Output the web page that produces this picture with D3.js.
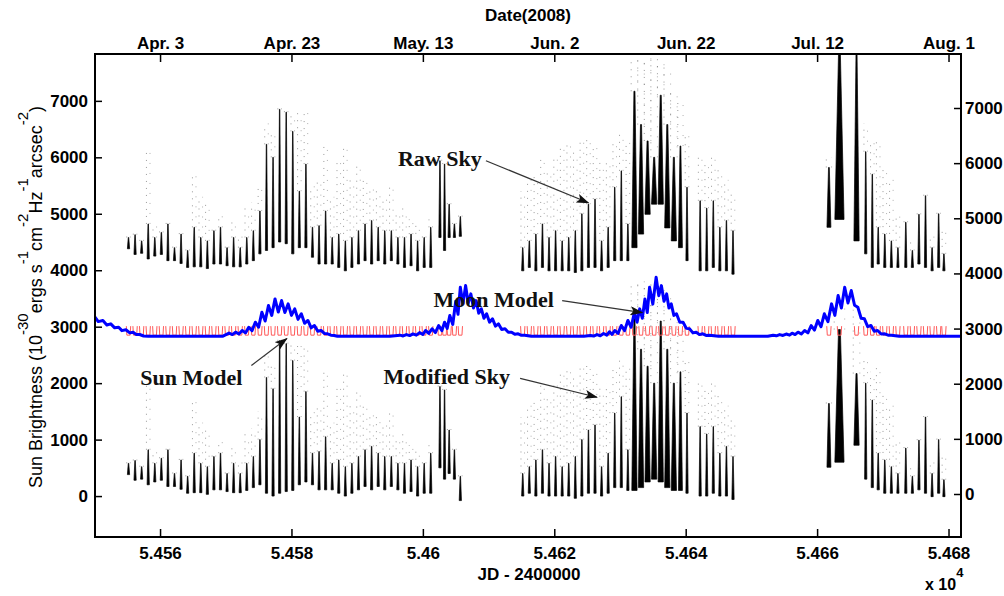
<!DOCTYPE html>
<html>
<head>
<meta charset="utf-8">
<script src="https://cdn.jsdelivr.net/npm/d3@7"></script>
<style>
  body { margin: 0; background: #fff; }
  svg text { font-family: "Liberation Sans", Arial, sans-serif; }
  .axis text { font-weight: bold; font-size: 17px; fill: #000; }
  .axis line { stroke: #000; stroke-width: 1.5; }
  .note { font-family: "Liberation Serif", serif; font-weight: bold; font-size: 22px; fill: #111; }
</style>
</head>
<body>
<svg width="1004" height="596"></svg>
<script>
// ---- data -------------------------------------------------------------
var jdTicks = [54560, 54580, 54600, 54620, 54640, 54660, 54680];
var jdTickLabels = ["5.456", "5.458", "5.46", "5.462", "5.464", "5.466", "5.468"];
var dateTickLabels = ["Apr. 3", "Apr. 23", "May. 13", "Jun. 2", "Jun. 22", "Jul. 12", "Aug. 1"];
var yTicks = [0, 1000, 2000, 3000, 4000, 5000, 6000, 7000];

// one entry per night: [jd, high value, low value, highest scattered point, half width (days)]
var rawSky = [
  [54555.2, 4580, 4380, 4700], [54556.2, 4630, 4280, 4750], [54557.2, 4520, 4300, 4600],
  [54558.2, 4820, 4200, 6100], [54559.2, 4580, 4250, 4800], [54560.2, 4670, 4280, 4750],
  [54561.2, 4820, 4170, 4900], [54562.2, 4400, 4170, 4500], [54563.2, 4640, 4120, 4700],
  [54564.2, 4350, 4050, 4400], [54565.2, 4760, 4060, 5700], [54566.2, 4580, 4060, 5300],
  [54567.2, 4520, 4030, 5200], [54568.2, 4700, 4110, 4800], [54569.2, 4760, 4110, 5000],
  [54570.2, 4400, 4080, 4500], [54571.2, 4580, 4060, 4900], [54572.2, 4400, 4060, 4600],
  [54573.2, 4580, 4110, 5100], [54574.2, 4700, 4170, 5200], [54575.2, 5050, 4290, 5500],
  [54576.2, 6230, 4350, 6600], [54577.2, 6000, 4400, 6400], [54578.2, 6850, 4500, 6900],
  [54579.2, 6800, 4470, 6850], [54580.2, 6460, 4290, 6800], [54581.2, 5400, 4400, 6800],
  [54582.2, 5880, 4400, 6800], [54583.2, 4760, 4230, 5500], [54584.2, 4790, 4110, 5600],
  [54585.2, 5050, 4110, 6200], [54586.2, 4580, 4110, 5300], [54587.2, 4640, 4050, 6000],
  [54588.2, 4520, 3990, 6200], [54589.2, 4580, 4050, 5600], [54590.2, 4700, 4110, 5900],
  [54591.2, 4820, 4170, 5600], [54592.2, 4880, 4110, 5500], [54593.2, 4760, 4170, 5400],
  [54594.2, 4700, 4110, 5300], [54595.2, 4700, 4170, 5500], [54596.2, 4580, 4110, 5000],
  [54597.2, 4580, 4050, 5100], [54598.2, 4640, 4080, 4900], [54599.2, 4520, 3990, 4800],
  [54600.2, 4580, 4050, 4700], [54601.2, 4760, 4050, 4900], [54602.6, 5940, 4580, 6000],
  [54603.3, 5880, 4350, 6000], [54604.0, 5170, 4580, 5200], [54604.8, 4820, 4580, 4900],
  [54605.7, 4950, 4600, 5000],
  [54615.2, 4400, 3990, 5400], [54616.2, 4520, 4050, 5600], [54617.2, 4640, 3990, 5700],
  [54618.2, 4820, 4050, 6000], [54619.2, 4580, 3990, 5800], [54620.2, 4700, 3990, 6000],
  [54621.2, 4520, 3990, 6200], [54622.2, 4580, 3990, 6300], [54623.2, 4700, 3960, 6100],
  [54624.2, 5000, 3990, 6300], [54625.2, 5170, 4050, 6400], [54626.2, 5260, 4050, 6200],
  [54627.2, 4520, 3990, 5900], [54628.2, 4760, 4050, 6000], [54629.2, 5470, 4170, 6300],
  [54630.2, 5760, 4170, 6400], [54631.2, 4820, 4170, 6300],
  [54632.2, 7170, 4400, 7750, 0.4], [54633.2, 6580, 4640, 7750, 0.4],
  [54634.2, 6290, 4990, 7750, 0.4], [54635.2, 6000, 5170, 7750, 0.4],
  [54636.2, 7100, 5170, 7750, 0.4], [54637.2, 6580, 4750, 7600, 0.4],
  [54638.2, 6000, 4520, 7200, 0.4], [54639.2, 6200, 4400, 7000, 0.3], [54640.2, 5470, 4170, 6400],
  [54642.2, 5230, 3990, 6000], [54643.2, 5100, 3990, 5900], [54644.2, 5230, 4050, 6000],
  [54645.2, 4760, 3990, 5800], [54646.2, 4880, 3990, 5600], [54647.2, 4700, 3930, 5400],
  [54661.8, 5820, 4760, 6000, 0.3], [54663.4, 7850, 4900, 7850, 0.7], [54666.0, 7850, 4520, 7850, 0.4],
  [54667.4, 6100, 4290, 6600], [54668.4, 5700, 4050, 6300], [54669.3, 4760, 4110, 6300],
  [54670.3, 4640, 4050, 5800], [54671.3, 4520, 4050, 5600], [54672.3, 4400, 4050, 5000],
  [54673.5, 4850, 4050, 4900], [54674.5, 4350, 4050, 4500], [54675.5, 4990, 4110, 5050],
  [54676.5, 5320, 4050, 5350], [54677.5, 4400, 3990, 4600], [54678.5, 5000, 4050, 5050],
  [54679.3, 4290, 3990, 4700]
];

var modifiedSky = [
  [54555.2, 580, 380, 700], [54556.2, 630, 280, 750], [54557.2, 520, 300, 600],
  [54558.2, 820, 200, 2100], [54559.2, 580, 250, 800], [54560.2, 670, 280, 750],
  [54561.2, 820, 170, 900], [54562.2, 400, 170, 500], [54563.2, 640, 120, 700],
  [54564.2, 350, 50, 400], [54565.2, 760, 60, 1700], [54566.2, 580, 60, 1300],
  [54567.2, 520, 30, 1200], [54568.2, 700, 110, 800], [54569.2, 760, 110, 1000],
  [54570.2, 400, 80, 500], [54571.2, 580, 60, 900], [54572.2, 400, 60, 600],
  [54573.2, 580, 100, 1100], [54574.2, 700, 150, 1200], [54575.2, 1000, 200, 1500],
  [54576.2, 2100, 50, 2500], [54577.2, 1900, 0, 2300], [54578.2, 2750, 50, 2850],
  [54579.2, 2700, 80, 2800], [54580.2, 2400, 100, 2750], [54581.2, 1400, 200, 2700],
  [54582.2, 1850, 250, 2700], [54583.2, 760, 200, 1500], [54584.2, 790, 110, 1600],
  [54585.2, 1050, 110, 2200], [54586.2, 580, 110, 1300], [54587.2, 640, 50, 2000],
  [54588.2, 520, 0, 2200], [54589.2, 580, 50, 1600], [54590.2, 700, 110, 1900],
  [54591.2, 820, 170, 1600], [54592.2, 880, 110, 1500], [54593.2, 760, 170, 1400],
  [54594.2, 700, 110, 1300], [54595.2, 700, 170, 1500], [54596.2, 580, 110, 1000],
  [54597.2, 580, 50, 1100], [54598.2, 640, 80, 900], [54599.2, 520, 0, 800],
  [54600.2, 580, 50, 700], [54601.2, 760, 50, 900], [54602.6, 1940, 500, 2000],
  [54603.3, 1880, 300, 2000], [54604.0, 1170, 400, 1200], [54604.8, 820, 300, 900],
  [54605.7, 350, -80, 400],
  [54615.2, 400, 0, 1400], [54616.2, 520, 50, 1600], [54617.2, 640, 0, 1700],
  [54618.2, 820, 50, 2000], [54619.2, 580, 0, 1800], [54620.2, 700, 0, 2000],
  [54621.2, 520, 0, 2200], [54622.2, 580, 0, 2300], [54623.2, 700, -40, 2100],
  [54624.2, 1000, 0, 2300], [54625.2, 1170, 50, 2400], [54626.2, 1260, 50, 2200],
  [54627.2, 520, 0, 1900], [54628.2, 760, 50, 2000], [54629.2, 1470, 150, 2300],
  [54630.2, 1760, 150, 2400], [54631.2, 820, 100, 2300],
  [54632.2, 3200, 100, 3750, 0.4], [54633.2, 2600, 150, 3750, 0.4],
  [54634.2, 2300, 250, 3800, 0.4], [54635.2, 2000, 300, 3750, 0.4],
  [54636.2, 3100, 250, 3800, 0.4], [54637.2, 2600, 150, 3600, 0.4],
  [54638.2, 2000, 100, 3200, 0.4], [54639.2, 2200, 100, 3000, 0.3], [54640.2, 1470, 50, 2400],
  [54642.2, 1230, 0, 2000], [54643.2, 1100, 0, 1900], [54644.2, 1230, 50, 2000],
  [54645.2, 760, 0, 1800], [54646.2, 880, 0, 1600], [54647.2, 700, -60, 1400],
  [54661.8, 1640, 510, 1700, 0.3], [54663.4, 2950, 600, 3400, 0.7], [54666.0, 2170, 900, 3300, 0.4],
  [54667.4, 2000, 300, 2400], [54668.4, 1700, 150, 2200], [54669.3, 760, 110, 2300],
  [54670.3, 640, 50, 1800], [54671.3, 520, 50, 1600], [54672.3, 400, 50, 1000],
  [54673.5, 850, 50, 900], [54674.5, 350, 50, 500], [54675.5, 990, 110, 1050],
  [54676.5, 1400, 50, 1450], [54677.5, 400, -10, 600], [54678.5, 1000, 50, 1050],
  [54679.3, 290, -10, 700]
];

// moon model curve vertices [jd, value]
var moonModel = [
  [54550.1, 3170], [54550.6, 3090], [54551.3, 3110], [54551.9, 3030], [54552.5, 3050],
  [54553.1, 2980], [54553.7, 2990], [54554.2, 2930], [54554.8, 2945], [54555.4, 2890],
  [54555.9, 2903], [54556.4, 2860], [54556.9, 2862], [54557.5, 2835], [54558.2, 2830],
  [54569.5, 2830],
  [54570.5, 2886], [54571.0, 2860], [54571.5, 2903], [54572.0, 2870], [54572.5, 2933],
  [54573.0, 2890], [54573.5, 2991], [54574.0, 2930], [54574.5, 3080], [54575.0, 2990],
  [54575.5, 3257], [54576.0, 3100], [54576.5, 3375], [54577.0, 3200], [54577.5, 3492],
  [54578.0, 3260], [54578.5, 3463], [54579.0, 3250], [54579.5, 3404], [54580.0, 3200],
  [54580.5, 3316], [54581.0, 3130], [54581.5, 3228], [54582.0, 3060], [54582.5, 3110],
  [54583.0, 2980], [54583.5, 3021], [54584.0, 2920], [54584.5, 2933], [54585.0, 2880],
  [54585.5, 2874], [54586.0, 2850], [54586.5, 2845], [54587.0, 2830],
  [54595.0, 2830],
  [54596.5, 2850], [54597.0, 2836], [54597.5, 2860], [54598.0, 2842], [54598.5, 2872],
  [54599.0, 2850], [54599.5, 2895], [54600.0, 2862], [54600.4, 2933], [54600.9, 2880],
  [54601.4, 2962], [54601.9, 2895], [54602.4, 3021], [54602.9, 2930], [54603.3, 3080],
  [54603.7, 2970], [54604.1, 3198], [54604.55, 3040], [54605.0, 3450], [54605.35, 3220],
  [54605.7, 3698], [54606.1, 3400], [54606.5, 3728], [54606.9, 3420], [54607.3, 3581],
  [54607.7, 3330], [54608.1, 3463], [54608.5, 3240], [54608.9, 3316], [54609.3, 3150],
  [54609.7, 3228], [54610.15, 3080], [54610.6, 3139], [54611.05, 3010], [54611.5, 3051],
  [54612.0, 2950], [54612.5, 2962], [54613.0, 2900], [54613.5, 2903], [54614.0, 2865],
  [54614.5, 2874], [54615.0, 2848], [54615.5, 2850], [54616.5, 2830],
  [54624.5, 2830],
  [54625.5, 2845], [54626.0, 2834], [54626.5, 2860], [54627.0, 2840], [54627.5, 2880],
  [54628.0, 2850], [54628.4, 2910], [54628.8, 2865], [54629.2, 2933], [54629.7, 2880],
  [54630.2, 3021], [54630.7, 2930], [54631.2, 3110], [54631.7, 2990], [54632.2, 3257],
  [54632.6, 3080], [54633.0, 3316], [54633.4, 3150], [54633.8, 3492], [54634.15, 3250],
  [54634.5, 3698], [54635.0, 3400], [54635.5, 3875], [54635.9, 3550], [54636.3, 3728],
  [54636.7, 3450], [54637.1, 3581], [54637.45, 3330], [54637.8, 3404], [54638.2, 3200],
  [54638.6, 3228], [54639.1, 3080], [54639.6, 3080], [54640.1, 2970], [54640.6, 2962],
  [54641.1, 2890], [54641.6, 2903], [54642.1, 2860], [54642.6, 2874], [54643.1, 2845],
  [54643.6, 2850], [54645.0, 2830],
  [54652.5, 2830],
  [54653.3, 2850], [54653.8, 2838], [54654.3, 2860], [54654.8, 2845], [54655.3, 2870],
  [54655.8, 2850], [54656.2, 2885], [54656.65, 2860], [54657.1, 2903], [54657.6, 2870],
  [54658.1, 2933], [54658.6, 2890], [54659.1, 3021], [54659.6, 2940], [54660.1, 3110],
  [54660.6, 3000], [54661.1, 3228], [54661.65, 3090], [54662.2, 3404], [54662.7, 3200],
  [54663.2, 3551], [54663.7, 3330], [54664.2, 3698], [54664.7, 3420], [54665.2, 3640],
  [54665.7, 3380], [54666.2, 3345], [54666.7, 3150], [54667.2, 3139], [54667.7, 3000],
  [54668.2, 3021], [54668.7, 2920], [54669.2, 2933], [54669.75, 2870], [54670.3, 2874],
  [54670.8, 2850], [54671.3, 2850], [54672.5, 2830], [54681.9, 2830]
];

// sun model: night minimum and twilight maximum, drawn at every observed night
var sunModelLevels = [2850, 3010];

// annotations: label position and arrow [from, to] in data units
var notes = [
  { text: "Raw Sky",      at: [54596.2, 5850], from: [54609.6, 5940], to: [54625.2, 5195] },
  { text: "Moon Model",   at: [54601.6, 3340], from: [54621.2, 3463], to: [54633.4, 3250] },
  { text: "Sun Model",    at: [54557.0, 1960], from: [54573.9, 2314], to: [54579.3, 2790] },
  { text: "Modified Sky", at: [54594.0, 1980], from: [54614.8, 2085], to: [54626.5, 1750] }
];

// ---- layout -----------------------------------------------------------
var svg = d3.select("svg"),
    box = {left: 95, right: 961, top: 54, bottom: 537};

var x = d3.scaleLinear()
    .domain([54550.1, 54681.9])
    .range([box.left, box.right]);

var y = d3.scaleLinear()
    .domain([-725, 7830])
    .range([box.bottom, box.top]);

// the right hand axis of the original is printed slightly off the left one
var yRight = d3.scaleLinear()
    .domain([0, 7000])
    .range([494, 108]);

svg.append("defs").append("clipPath")
    .attr("id", "clip")
  .append("rect")
    .attr("x", box.left).attr("y", box.top)
    .attr("width", box.right - box.left).attr("height", box.bottom - box.top);

svg.select("defs").append("marker")
    .attr("id", "head")
    .attr("markerUnits", "userSpaceOnUse")
    .attr("markerWidth", 13).attr("markerHeight", 9)
    .attr("refX", 12).attr("refY", 4.5)
    .attr("orient", "auto")
  .append("path")
    .attr("d", "M0,0L13,4.5L0,9L3,4.5Z")
    .attr("fill", "#111");

var plot = svg.append("g").attr("clip-path", "url(#clip)");

var line = d3.line()
    .x(function(p) { return x(p[0]); })
    .y(function(p) { return y(p[1]); });

function halfWidth(d) { return d[4] || 0.17; }

function drawSky(data, cls) {
  var g = plot.append("g").attr("class", cls);

  // scattered points above each night
  [[-1, "1 6", 0.45], [1, "1 9", 0.35]].forEach(function(s) {
    g.selectAll(".scatter" + s[0])
      .data(data)
      .enter().append("line")
        .attr("x1", function(d) { return x(d[0] + s[0] * (halfWidth(d) + 0.1)); })
        .attr("x2", function(d) { return x(d[0] + s[0] * (halfWidth(d) + 0.1)); })
        .attr("y1", function(d) { return y(d[1]); })
        .attr("y2", function(d) { return y(d[3]); })
        .attr("stroke", "#222")
        .attr("stroke-width", 1)
        .attr("stroke-dasharray", s[1])
        .attr("opacity", s[2]);
  });

  // each night: dense at its low end, tapering to the high end
  g.selectAll(".night")
    .data(data)
    .enter().append("path")
      .attr("class", "night")
      .attr("d", function(d) {
        var w = halfWidth(d);
        return line([[d[0] - w, d[2]], [d[0] - w * 0.2, d[1]],
                     [d[0] + w * 0.2, d[1]], [d[0] + w, d[2]]]) + "Z";
      })
      .attr("fill", "#000")
      .attr("stroke", "#000")
      .attr("stroke-width", 0.7)
      .attr("stroke-linejoin", "round");
}

drawSky(rawSky, "raw");
drawSky(modifiedSky, "modified");

// sun model, one U per observed night
plot.append("g").selectAll("path")
  .data(rawSky)
  .enter().append("path")
    .attr("d", function(d) {
      return line([
        [d[0] - 0.33, sunModelLevels[1]], [d[0] - 0.25, sunModelLevels[0]],
        [d[0] + 0.25, sunModelLevels[0]], [d[0] + 0.33, sunModelLevels[1]]
      ]);
    })
    .attr("fill", "none")
    .attr("stroke", "#ff5a5a")
    .attr("stroke-width", 1);

plot.append("path")
    .datum(moonModel)
    .attr("d", line)
    .attr("fill", "none")
    .attr("stroke", "#0000ff")
    .attr("stroke-width", 3)
    .attr("stroke-linejoin", "round");

// ---- axes -------------------------------------------------------------
function styleAxis(g) {
  g.select(".domain").remove();
  g.attr("class", "axis");
}

svg.append("g")
    .attr("transform", "translate(0," + box.bottom + ")")
    .call(d3.axisBottom(x).tickValues(jdTicks)
      .tickFormat(function(d, i) { return jdTickLabels[i]; })
      .tickSizeInner(-8).tickSizeOuter(0).tickPadding(10))
    .call(styleAxis);

svg.append("g")
    .attr("transform", "translate(0," + box.top + ")")
    .call(d3.axisTop(x).tickValues(jdTicks)
      .tickFormat(function(d, i) { return dateTickLabels[i]; })
      .tickSizeInner(-8).tickSizeOuter(0).tickPadding(5))
    .call(styleAxis);

svg.append("g")
    .attr("transform", "translate(" + box.left + ",0)")
    .call(d3.axisLeft(y).tickValues(yTicks).tickFormat(d3.format("d"))
      .tickSizeInner(-7).tickSizeOuter(0).tickPadding(7))
    .call(styleAxis);

svg.append("g")
    .attr("transform", "translate(" + box.right + ",0)")
    .call(d3.axisRight(yRight).tickValues(yTicks).tickFormat(d3.format("d"))
      .tickSizeInner(-7).tickSizeOuter(0).tickPadding(4))
    .call(styleAxis);

svg.append("rect")
    .attr("x", box.left).attr("y", box.top)
    .attr("width", box.right - box.left).attr("height", box.bottom - box.top)
    .attr("fill", "none")
    .attr("stroke", "#000")
    .attr("stroke-width", 2);

// ---- titles -------------------------------------------------------------
svg.append("text")
    .attr("x", 528).attr("y", 21)
    .attr("text-anchor", "middle")
    .style("font-weight", "bold").style("font-size", "17px")
    .text("Date(2008)");

svg.append("text")
    .attr("x", 529).attr("y", 580)
    .attr("text-anchor", "middle")
    .style("font-weight", "bold").style("font-size", "17px")
    .text("JD - 2400000");

var exp = svg.append("text")
    .attr("x", 925).attr("y", 590)
    .style("font-weight", "bold").style("font-size", "16px");
exp.append("tspan").text("x 10");
exp.append("tspan").attr("dy", -13).style("font-size", "13px").text("4");

var ylab = svg.append("text")
    .attr("transform", "translate(42,297) rotate(-90)")
    .attr("text-anchor", "middle")
    .style("font-size", "18px");
[["Sun Brightness (10", 0], ["-30", 1], ["ergs s", 0], ["-1", 1], ["cm", 0], ["-2", 1],
 ["Hz", 0], ["-1", 1], ["arcsec", 0], ["-2", 1], [")", 0]].forEach(function(p, i, all) {
  var prev = i > 0 ? all[i - 1][1] : 0;
  ylab.append("tspan")
      .attr("dy", p[1] === prev ? 0 : (p[1] ? -14 : 14))
      .style("font-size", p[1] ? "15px" : "18px")
      .text(p[0]);
});

// ---- annotations --------------------------------------------------------
var note = svg.append("g").selectAll("g")
  .data(notes)
  .enter().append("g");

note.append("line")
    .attr("x1", function(d) { return x(d.from[0]); })
    .attr("y1", function(d) { return y(d.from[1]); })
    .attr("x2", function(d) { return x(d.to[0]); })
    .attr("y2", function(d) { return y(d.to[1]); })
    .attr("stroke", "#333")
    .attr("stroke-width", 1.2)
    .attr("marker-end", "url(#head)");

note.append("text")
    .attr("class", "note")
    .attr("x", function(d) { return x(d.at[0]); })
    .attr("y", function(d) { return y(d.at[1]); })
    .text(function(d) { return d.text; });
</script>
</body>
</html>
